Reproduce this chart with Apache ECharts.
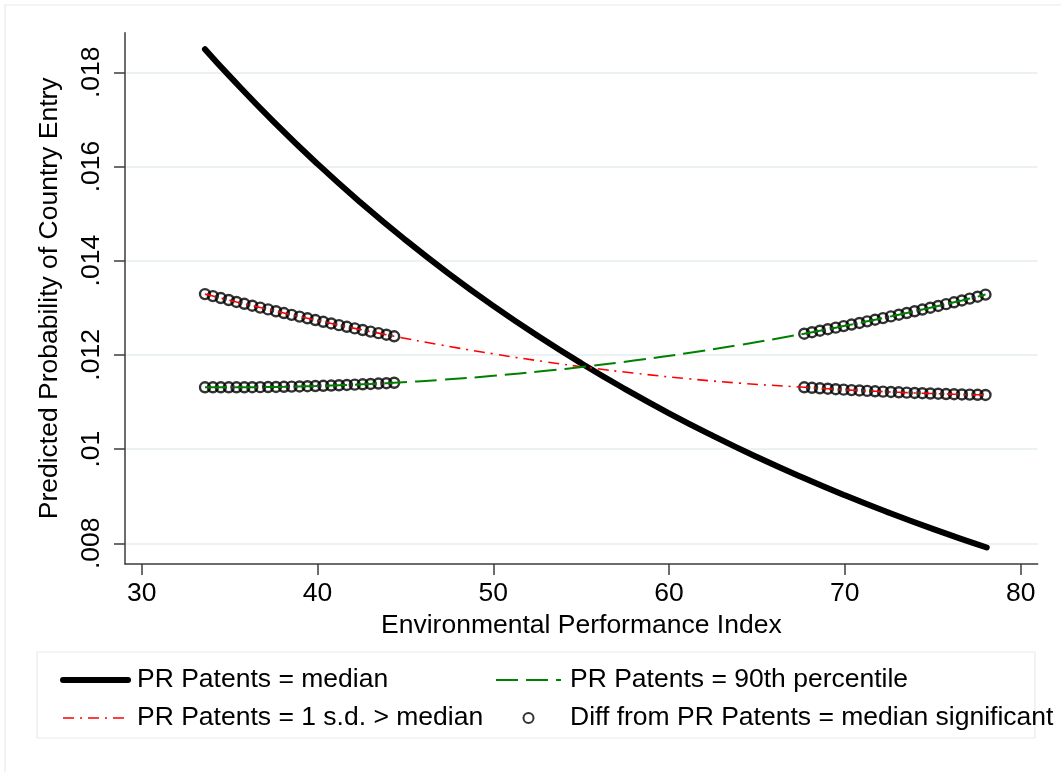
<!DOCTYPE html>
<html>
<head>
<meta charset="utf-8">
<title>Predicted Probability of Country Entry</title>
<script src="https://cdn.jsdelivr.net/npm/echarts@6/dist/echarts.min.js"></script>
<style>
    html, body { margin: 0; padding: 0; background: #fff; }
    #chart { width: 1061px; height: 772px; }
</style>
</head>
<body>
<div id="chart"></div>
<script>
// tick labels
var xTicks = [30, 40, 50, 60, 70, 80];
var yTicks = [0.008, 0.01, 0.012, 0.014, 0.016, 0.018];

// PR Patents = median
var medianX = [33.6, 35, 37.5, 40, 42.5, 45, 47.5, 50, 52.5, 55, 57.5, 60, 62.5, 65, 67.5, 70, 72.5, 75, 77.5, 78.07];
var medianY = [0.01849, 0.017918, 0.016952, 0.016054, 0.015219, 0.014441, 0.013716, 0.013041, 0.012411, 0.011823,
    0.011274, 0.01076, 0.010281, 0.009832, 0.009412, 0.009019, 0.008651, 0.008305, 0.007982, 0.00791];

// EPI values where the difference is significant (the circles)
var sigLeftX = [33.60, 34.05, 34.50, 34.95, 35.39, 35.84, 36.29, 36.74, 37.19, 37.64, 38.09, 38.53, 38.98,
    39.43, 39.88, 40.33, 40.78, 41.22, 41.67, 42.12, 42.57, 43.02, 43.47, 43.92, 44.36];
var sigRightX = [67.69, 68.13, 68.58, 69.03, 69.48, 69.93, 70.38, 70.83, 71.27, 71.72, 72.17, 72.62,
    73.07, 73.52, 73.97, 74.41, 74.86, 75.31, 75.76, 76.21, 76.66, 77.10, 77.55, 78.00];
// EPI values in the middle, line only
var midX = [47, 50, 53, 55.4, 58, 61, 64];

// PR Patents = 1 s.d. > median
var sdLeft = [0.013290, 0.013248, 0.013206, 0.013165, 0.013124, 0.013084, 0.013044, 0.013004, 0.012965,
    0.012926, 0.012888, 0.012850, 0.012813, 0.012776, 0.012739, 0.012703, 0.012667, 0.012631, 0.012596,
    0.012562, 0.012528, 0.012494, 0.012461, 0.012428, 0.012395];
var sdMid = [0.012212, 0.012022, 0.011852, 0.01173, 0.011613, 0.011496, 0.0114];
var sdRight = [0.011312, 0.011301, 0.011291, 0.011281, 0.011271, 0.011262, 0.011252, 0.011244, 0.011235,
    0.011227, 0.011219, 0.011212, 0.011205, 0.011198, 0.011192, 0.011186, 0.011180, 0.011175, 0.011169,
    0.011165, 0.011160, 0.011156, 0.011152, 0.011149];

// PR Patents = 90th percentile
var p90Left = [0.011312, 0.011311, 0.011311, 0.011311, 0.011311, 0.011312, 0.011313, 0.011315, 0.011317,
    0.011319, 0.011322, 0.011326, 0.011329, 0.011334, 0.011338, 0.011343, 0.011349, 0.011355, 0.011361,
    0.011368, 0.011375, 0.011383, 0.011391, 0.011399, 0.011408];
var p90Mid = [0.011468, 0.011555, 0.011661, 0.011759, 0.011879, 0.012035, 0.012209];
var p90Right = [0.012450, 0.012481, 0.012513, 0.012545, 0.012578, 0.012611, 0.012644, 0.012678, 0.012712,
    0.012747, 0.012781, 0.012817, 0.012853, 0.012889, 0.012926, 0.012963, 0.013001, 0.013039, 0.013077,
    0.013116, 0.013155, 0.013195, 0.013235, 0.013280];

var FONT = '"Liberation Sans", Arial, Helvetica, sans-serif';
var FONT_SIZE = 26.5;
var AXIS_COLOR = '#3c3c3c';
var GRID_COLOR = '#e6eef0';

function pairs(xs, ys) {
    return xs.map(function (x, i) { return [x, ys[i]]; });
}

var xAll = sigLeftX.concat(midX, sigRightX);
var sdData = pairs(xAll, sdLeft.concat(sdMid, sdRight));
var p90Data = pairs(xAll, p90Left.concat(p90Mid, p90Right));
var sigData = pairs(sigLeftX, sdLeft).concat(pairs(sigRightX, sdRight),
    pairs(sigLeftX, p90Left), pairs(sigRightX, p90Right));

var names = {
    median: 'PR Patents = median',
    sd: 'PR Patents = 1 s.d. > median',
    p90: 'PR Patents = 90th percentile',
    sig: 'Diff from PR Patents = median significant'
};

var legendText = {
    fontFamily: FONT, fontSize: FONT_SIZE, color: '#000', lineHeight: 30, padding: [0, 0, 0, 4]
};
// legend entry for a line series: hide the marker dot, keep the line
function lineEntry(name, width) {
    return { name: name, itemStyle: { opacity: 0 }, lineStyle: { width: width } };
}

var chart = echarts.init(document.getElementById('chart'));
chart.setOption({
    backgroundColor: '#fff',
    animation: false,
    grid: { left: 125, right: 23.3, top: 32.7, bottom: 208 },
    xAxis: {
        type: 'value',
        min: 29.05,
        max: 80.97,
        name: 'Environmental Performance Index',
        nameLocation: 'middle',
        nameGap: 41,
        nameTextStyle: { fontFamily: FONT, fontSize: FONT_SIZE, color: '#000' },
        axisLine: { lineStyle: { color: AXIS_COLOR, width: 1.5 } },
        axisTick: { show: true, customValues: xTicks, length: 11, lineStyle: { color: AXIS_COLOR, width: 1.5 } },
        axisLabel: { customValues: xTicks, margin: 16, fontFamily: FONT, fontSize: FONT_SIZE, color: '#000' },
        splitLine: { show: false }
    },
    yAxis: {
        type: 'value',
        min: 0.00756,
        max: 0.01884,
        name: 'Predicted Probability of Country Entry',
        nameLocation: 'middle',
        nameGap: 62,
        nameTextStyle: { fontFamily: FONT, fontSize: FONT_SIZE, color: '#000' },
        axisLine: { show: true, lineStyle: { color: AXIS_COLOR, width: 1.5 } },
        axisTick: { show: true, customValues: yTicks, length: 11, lineStyle: { color: AXIS_COLOR, width: 1.5 } },
        axisLabel: {
            customValues: yTicks,
            rotate: 90,
            margin: 20,
            fontFamily: FONT, fontSize: FONT_SIZE, color: '#000',
            formatter: function (v) { return String(+v.toFixed(3)).replace(/^0/, ''); }
        },
        splitLine: { show: true, lineStyle: { color: GRID_COLOR, width: 1.5 } }
    },
    legend: [{
        left: 55, top: 660, orient: 'vertical',
        itemWidth: 65, itemHeight: 10, itemGap: 8,
        textStyle: legendText,
        data: [lineEntry(names.median, 6), lineEntry(names.sd, 1.6)]
    }, {
        left: 490, top: 660, orient: 'vertical',
        itemWidth: 65, itemHeight: 10, itemGap: 8,
        textStyle: legendText,
        data: [lineEntry(names.p90, 2), names.sig]
    }],
    graphic: [{
        // outer frame
        type: 'rect', silent: true,
        shape: { x: 5, y: 5, width: 1200, height: 900 },
        style: { fill: 'none', stroke: '#e4ecee', lineWidth: 1.2 }
    }, {
        // legend box
        type: 'rect', silent: true,
        shape: { x: 37, y: 652, width: 998, height: 86 },
        style: { fill: 'none', stroke: '#e4ecee', lineWidth: 1.2 }
    }],
    series: [{
        name: names.median,
        type: 'line',
        data: pairs(medianX, medianY),
        smooth: true,
        symbol: 'none',
        lineStyle: { color: '#000', width: 6, cap: 'round' },
        itemStyle: { color: '#000' }
    }, {
        name: names.sd,
        type: 'line',
        data: sdData,
        smooth: true,
        symbol: 'none',
        lineStyle: { color: '#ff0000', width: 1.6, type: [11, 6, 2, 6] },
        itemStyle: { color: '#ff0000' }
    }, {
        name: names.p90,
        type: 'line',
        data: p90Data,
        smooth: true,
        symbol: 'none',
        lineStyle: { color: '#008000', width: 2, type: [22, 8] },
        itemStyle: { color: '#008000' }
    }, {
        name: names.sig,
        type: 'scatter',
        data: sigData,
        symbol: 'circle',
        symbolSize: 10,
        itemStyle: { color: 'rgba(0,0,0,0)', borderColor: '#000', borderWidth: 2.4 }
    }]
});
</script>
</body>
</html>
